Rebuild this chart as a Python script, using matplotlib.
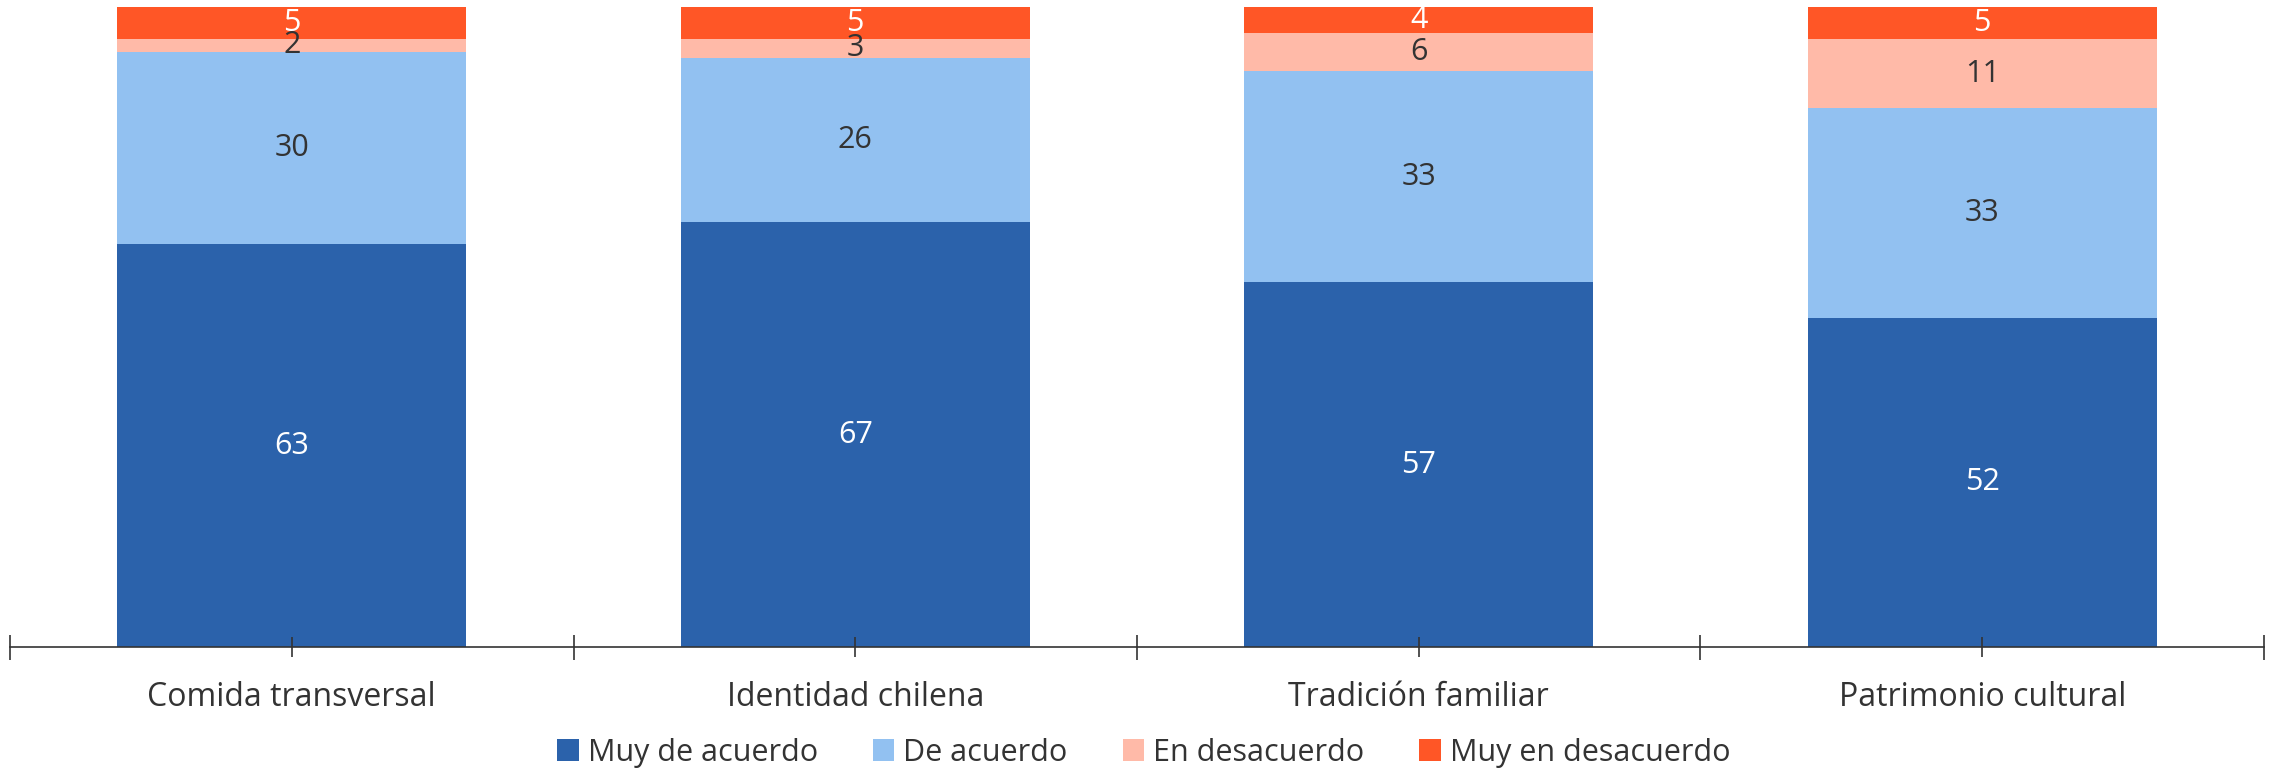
import numpy as np
import matplotlib.pyplot as plt

plt.rcParams['font.family'] = ['Open Sans', 'DejaVu Sans']

categories = ['Comida transversal', 'Identidad chilena', 'Tradición familiar', 'Patrimonio cultural']
series_names = ['Muy de acuerdo', 'De acuerdo', 'En desacuerdo', 'Muy en desacuerdo']
muy_de_acuerdo = [63, 67, 57, 52]
de_acuerdo = [30, 26, 33, 33]
en_desacuerdo = [2, 3, 6, 11]
muy_en_desacuerdo = [5, 5, 4, 5]

colors = ['#2B62AB', '#92C1F1', '#FFBAA8', '#FF5626']
label_colors = ['white', '#333333', '#333333', 'white']

series = [muy_de_acuerdo, de_acuerdo, en_desacuerdo, muy_en_desacuerdo]
# rounded values; each bar is drawn as a share of its own total (100 %)
totals = np.sum(np.array(series, dtype=float), axis=0)

fig = plt.figure(figsize=(22.74, 7.76), dpi=100)
ax = fig.add_axes([0.0044, 0.166, 0.9912, 0.825])

x = np.arange(len(categories))
bottom = np.zeros(len(categories))
for vals, name, col, lcol in zip(series, series_names, colors, label_colors):
    vals = np.array(vals, dtype=float)
    shares = vals / totals * 100
    ax.bar(x, shares, width=0.62, bottom=bottom, color=col, label=name)
    for xi, b, s, v in zip(x, bottom, shares, vals):
        ax.text(xi, b + s / 2, f'{int(v)}', ha='center', va='center',
                fontsize=22, color=lcol)
    bottom += shares

ax.set_xlim(-0.5, len(categories) - 0.5)
ax.set_ylim(0, 100)

for s in ['top', 'right', 'left']:
    ax.spines[s].set_visible(False)
ax.spines['bottom'].set_color('#333333')
ax.spines['bottom'].set_linewidth(1.2)
ax.set_yticks([])

ax.set_xticks(x)
ax.set_xticklabels(categories, fontsize=23, color='#333333')
ax.set_xticks(np.arange(len(categories) + 1) - 0.5, minor=True)
ax.tick_params(axis='x', which='major', direction='inout', length=14, width=1.2,
               color='#333333', pad=17)
ax.tick_params(axis='x', which='minor', direction='inout', length=18, width=1.2,
               color='#333333')

fig.legend(loc='center', bbox_to_anchor=(0.503, 0.03), ncol=4, frameon=False,
           fontsize=22, handlelength=0.7, handleheight=0.7, handletextpad=0.3,
           columnspacing=1.8, labelcolor='#333333', borderpad=0.1)

fig.savefig('out.png', dpi=100)
